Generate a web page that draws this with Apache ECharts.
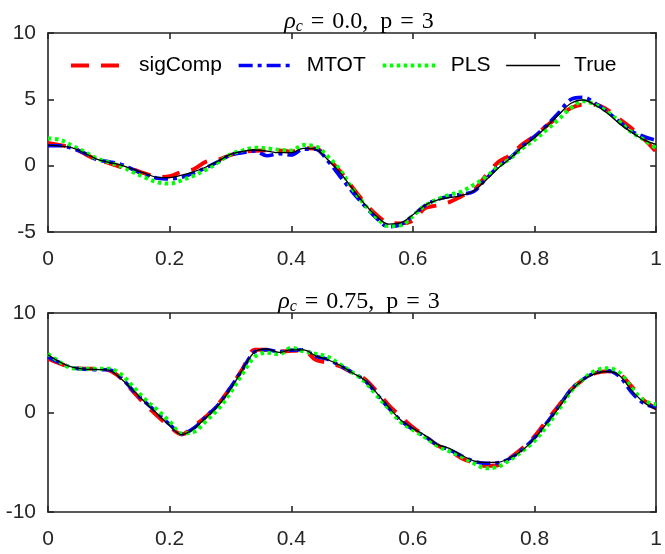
<!DOCTYPE html>
<html>
<head>
<meta charset="utf-8">
<script src="https://cdn.jsdelivr.net/npm/echarts@6/dist/echarts.min.js"></script>
<style>html,body{margin:0;padding:0;background:#fff}#c{width:665px;height:554px}</style>
</head>
<body>
<div id="c"></div>
<script>
const tValues = [0,0.02,0.04,0.06,0.08,0.1,0.12,0.14,0.16,0.18,0.2,0.22,0.24,0.26,0.28,0.3,0.32,0.34,0.36,0.38,0.4,0.42,0.44,0.46,0.48,0.5,0.52,0.54,0.56,0.58,0.6,0.62,0.64,0.66,0.68,0.7,0.72,0.74,0.76,0.78,0.8,0.82,0.84,0.86,0.88,0.9,0.92,0.94,0.96,0.98,1];
const seriesNames = ['sigComp','MTOT','PLS','True'];
const titles = ['0.0','0.75'];
const xTicks = [0,0.2,0.4,0.6,0.8,1];
const topTicks = [-5,0,5,10];
const bottomTicks = [-10,0,10];

// rho_c = 0.0
const topSigComp = [1.72,1.55,1.35,0.90,0.45,0.20,-0.10,-0.30,-0.60,-0.85,-0.80,-0.45,-0.25,0.30,0.45,0.80,1.05,1.12,1.15,1.15,1.05,1.32,1.30,0.55,-0.40,-1.60,-2.75,-3.70,-4.30,-4.35,-4.15,-3.20,-3.00,-2.75,-2.30,-1.85,-0.75,0.25,0.80,1.60,2.25,3.00,3.70,4.35,4.60,4.60,4.20,3.50,2.80,2.00,1.05];
const topMTOT = [1.50,1.50,1.30,0.95,0.45,0.30,0.10,-0.30,-0.70,-0.95,-1.00,-0.88,-0.55,-0.15,0.30,0.80,0.98,1.10,0.75,0.90,0.80,1.25,1.25,0.35,-0.80,-1.95,-3.00,-3.95,-4.60,-4.45,-3.75,-3.00,-2.55,-2.30,-2.15,-1.95,-1.00,-0.10,0.60,1.45,2.20,3.05,4.00,5.00,5.15,4.70,4.05,3.30,2.60,2.20,1.90];
const topPLS = [2.05,1.95,1.50,1.05,0.55,0.25,-0.05,-0.50,-0.90,-1.25,-1.35,-1.10,-0.75,-0.30,0.25,0.85,1.15,1.35,1.30,1.20,1.15,1.55,1.45,0.70,-0.30,-1.70,-2.90,-3.90,-4.55,-4.50,-3.80,-3.00,-2.55,-2.20,-1.95,-1.45,-0.85,-0.10,0.55,1.30,1.95,2.70,3.50,4.35,4.85,4.60,4.05,3.30,2.50,1.95,1.30];
const topTrue = [1.55,1.48,1.35,0.95,0.50,0.25,0.05,-0.28,-0.58,-0.88,-0.90,-0.72,-0.45,-0.10,0.35,0.85,1.08,1.18,1.10,0.98,0.98,1.30,1.22,0.45,-0.50,-1.70,-2.85,-3.80,-4.40,-4.30,-3.70,-2.98,-2.60,-2.40,-2.25,-1.90,-1.10,-0.20,0.55,1.40,2.10,2.95,3.85,4.70,4.95,4.55,3.95,3.15,2.50,1.95,1.60];

// rho_c = 0.75
const botSigComp = [5.40,4.90,4.50,4.40,4.40,4.25,3.45,2.10,0.80,-0.35,-1.40,-2.20,-1.35,-0.40,0.85,2.50,4.40,6.30,6.30,6.10,6.20,6.25,5.30,5.00,4.65,4.00,3.40,2.15,0.75,-0.40,-1.50,-2.35,-3.30,-3.80,-4.60,-5.05,-5.35,-5.30,-4.55,-3.60,-2.40,-0.80,0.70,2.30,3.30,3.95,4.15,3.85,2.60,1.20,0.40];
const botMTOT = [5.60,5.00,4.50,4.35,4.30,4.30,3.50,2.20,1.05,-0.05,-1.20,-2.15,-1.55,-0.40,0.80,2.50,4.35,6.10,6.30,6.10,6.25,6.30,5.65,5.35,4.70,4.05,3.25,1.90,0.45,-0.80,-1.70,-2.40,-3.25,-3.75,-4.35,-4.90,-5.10,-5.05,-4.60,-3.70,-2.55,-1.05,0.60,2.30,3.35,4.00,4.20,3.60,2.00,0.90,0.50];
const botPLS = [5.90,5.05,4.45,4.40,4.40,4.40,3.85,2.60,1.30,0.25,-0.90,-2.10,-1.95,-0.85,0.35,2.00,3.90,5.60,6.00,5.85,6.50,6.15,5.90,5.60,4.85,4.05,3.15,1.75,0.40,-0.95,-1.75,-2.50,-3.35,-3.90,-4.45,-5.10,-5.60,-5.45,-4.75,-3.90,-2.85,-1.40,0.30,2.10,3.35,4.20,4.45,4.00,2.45,1.20,0.80];
const botTrue = [5.80,5.05,4.55,4.35,4.32,4.25,3.40,2.25,1.00,-0.15,-1.30,-2.22,-1.60,-0.50,0.70,2.35,4.30,6.10,6.38,6.04,6.30,6.30,5.70,5.30,4.75,4.00,3.30,2.00,0.55,-0.75,-1.60,-2.30,-3.20,-3.60,-4.30,-4.85,-5.02,-5.00,-4.55,-3.80,-2.60,-1.10,0.50,2.20,3.30,3.90,4.12,3.70,2.20,1.00,0.30];

const pairs = arr => arr.map((v, i) => [tValues[i], v]);

const styles = [
  {color:'#ff0000', width:4, type:[18,12]},
  {color:'#0000ff', width:3.6, type:[14,5,4,5]},
  {color:'#00ff00', width:4, type:[3.5,3.5]},
  {color:'#000000', width:1.3, type:'solid'}
];

const axisColor = '#262626';
const tickFont = {fontFamily:'Liberation Sans, Arial, sans-serif', fontSize:21, color:axisColor};

function xAx(grid, pos, labels) {
  return {type:'value', gridIndex:grid, position:pos, min:0, max:1, interval:0.2,
    axisLine:{show:true, onZero:false, lineStyle:{color:axisColor, width:1.6}},
    axisTick:{show:true, inside:true, length:6, lineStyle:{color:axisColor, width:1.6}},
    axisLabel:Object.assign({show:labels, margin:17}, tickFont),
    splitLine:{show:false}};
}
function yAx(grid, pos, labels, mn, mx, iv) {
  return {type:'value', gridIndex:grid, position:pos, min:mn, max:mx, interval:iv,
    axisLine:{show:true, onZero:false, lineStyle:{color:axisColor, width:1.6}},
    axisTick:{show:true, inside:true, length:6, lineStyle:{color:axisColor, width:1.6}},
    axisLabel:Object.assign({show:labels, margin:12}, tickFont),
    splitLine:{show:false}};
}

const topData = [topSigComp, topMTOT, topPLS, topTrue];
const botData = [botSigComp, botMTOT, botPLS, botTrue];
const series = [];
[topData, botData].forEach((set, g) => {
  set.forEach((arr, k) => {
    series.push({name:seriesNames[k], type:'line', xAxisIndex:g*2, yAxisIndex:g*2,
      data:pairs(arr), showSymbol:false, symbol:'none', smooth:0.35,
      lineStyle:{color:styles[k].color, width:styles[k].width, type:styles[k].type, cap:'butt'},
      itemStyle:{color:styles[k].color}, z:2+k, animation:false});
  });
});

const serif = 'Liberation Serif, "DejaVu Serif", serif';
const titleRich = {
  r:{fontFamily:serif, fontStyle:'italic', fontWeight:'normal', fontSize:24, color:'#000'},
  s:{fontFamily:serif, fontStyle:'italic', fontWeight:'normal', fontSize:16, color:'#000', padding:[10,0,0,0]},
  n:{fontFamily:serif, fontWeight:'normal', fontSize:24, color:'#000'}
};

const option = {
  backgroundColor:'#fff',
  animation:false,
  title: titles.map((v, i) => ({
    text:'{r|ρ}{s|c}{n| \u200a=\u200a ' + v + ',  p \u200a=\u200a 3}',
    left:354, textAlign:'center', top: i === 0 ? 4 : 284,
    textStyle:{fontWeight:'normal', rich:titleRich}
  })),
  legend:{
    data:seriesNames.map((n, k) => ({name:n,
      lineStyle:{color:styles[k].color, width:styles[k].width, type:styles[k].type, cap:'butt'}})),
    left:64, top:50, itemWidth:54, itemHeight:14, itemGap:15,
    itemStyle:{opacity:0},
    textStyle:{fontFamily:'Liberation Sans, Arial, sans-serif', fontSize:21, color:'#000', padding:[0,0,0,9]},
    selectedMode:false
  },
  grid:[
    {left:48, right:5, top:33, height:199},
    {left:48, right:5, top:313, height:199}
  ],
  xAxis:[xAx(0,'bottom',true), xAx(0,'top',false), xAx(1,'bottom',true), xAx(1,'top',false)],
  yAxis:[yAx(0,'left',true,-5,10,5), yAx(0,'right',false,-5,10,5), yAx(1,'left',true,-10,10,10), yAx(1,'right',false,-10,10,10)],
  series: series.concat([
    {type:'line', xAxisIndex:1, yAxisIndex:1, data:[], silent:true},
    {type:'line', xAxisIndex:3, yAxisIndex:3, data:[], silent:true}
  ])
};

const chart = echarts.init(document.getElementById('c'), null, {renderer:'canvas'});
chart.setOption(option);
</script>
</body>
</html>
